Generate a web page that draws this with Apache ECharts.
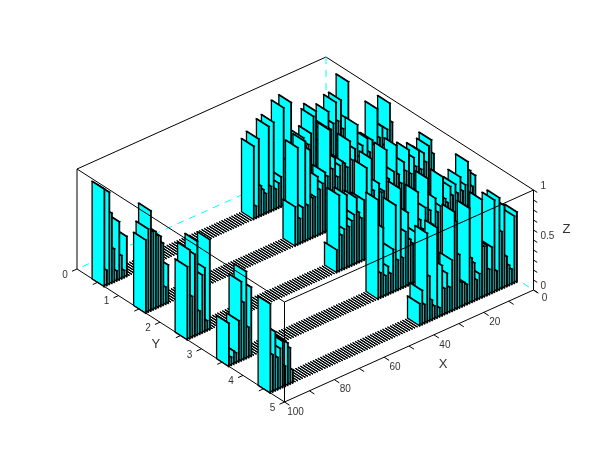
<!DOCTYPE html>
<html>
<head>
<meta charset="utf-8">
<style>html,body{margin:0;padding:0;background:#fff}#container{width:610px;height:460px}</style>
<script src="https://cdn.jsdelivr.net/npm/echarts@6/dist/echarts.min.js"></script>
</head>
<body>
<div id="container"></div>
<script>
// bar heights by row, X = 1..100
var row1 = [.5,.95,.6,.5,.8,.6,.8,.6,.55,.74, .6,.5,.6,.5,.8,.76,.6,.5,.5,.59, .4,.3,.5,.45,1,.3,.45,.98,.3,.25, .2,.88,.25,.86,.2,.25,.3,.78,.12,.73,
  0,0,0,0,0,0,0,0,0,0, 0,0,0,0,0,0,0,0,0,0, 0,0,0,0,0,0,0,0,0,0, 0,0,0,0,0,0,0,0,0,0, 0,0,0,0,0,0,0,0,0,0,
  .4,.07,.23,.58,.1,.33,.7,.92,.15,.975];
var row2 = [.8,1,.75,.6,.8,.7,1,.65,.71,.6, .75,.55,.7,.6,.93,.7,.6,.8,.55,.6, .63,.6,.5,.7,.6,1,.55,.6,.5,.45, .59,.4,.4,.89,.35,1,.35,.25,.97,.39,
  0,0,0,0,0,0,0,0,0,0, 0,0,0,0,0,0,0,0,0,0, 0,0,0,0,0,0,0,0,0,0, 0,0,0,0,0,0,0,0,0,0, 0,0,0,0,0,0,0,0,0,0,
  .38,.17,.62,.7,.72,.77,.78,1,.83,.73];
var row3 = [.75,.9,.85,.7,.8,.65,.85,.7,.8,.65, .9,.7,.8,.6,.7,1,.75,.6,.7,1, .6,.6,.7,.55,.65,.98,.6,.91,.6,.43, .5,.655,.5,.45,.4,.73,.4,.35,.76,.226,
  0,0,0,0,0,0,0,0,0,0, 0,0,0,0,0,0,0,0,0,0, 0,0,0,0,0,0,0,0,0,0, 0,0,0,0,0,0,0,0,0,0, 0,0,0,0,0,0,0,0,0,0,
  .9,.1,.64,.58,.23,.94,.82,.41,.885,.73];
var row4 = [.8,.7,.87,.97,.75,.7,.85,.7,.8,.7, .8,.65,.7,.93,.65,.6,.75,.5,.65,.98, .7,.5,.6,.89,.5,.4,.45,.73,.55,.3, 1,.3,.86,.43,.2,.28,.2,.69,.25,.99,
  0,0,0,0,0,0,0,0,0,0, 0,0,0,0,0,0,0,0,0,0, 0,0,0,0,0,0,0,0,0,0, 0,0,0,0,0,0,0,0,0,0, 0,0,0,0,0,0,0,0,0,0,
  .69,.3,.87,.57,.79,.41,.1,.13,.08,.43];
var row5 = [.7,.67,.15,.2,.3,.82,.57,.92,.2,.92, .46,.25,.5,.5,.98,.25,.2,.38,.44,.95, .2,.23,.24,.53,.87,.98,.51,.25,.4,.26, .5,.09,.9,.13,.2,.45,.89,.19,.34,.22,
  0,0,0,0,0,0,0,0,0,0, 0,0,0,0,0,0,0,0,0,0, 0,0,0,0,0,0,0,0,0,0, 0,0,0,0,0,0,0,0,0,0, 0,0,0,0,0,0,0,0,0,0,
  .13,.36,.42,.2,.46,.4,.32,.59,.37,.89];
var rows = [row1, row2, row3, row4, row5];

var xTicks = [0, 10, 20, 30, 40, 50, 60, 70, 80, 90, 100];
var xLabels = [0, 20, 40, 60, 80, 100];
var yTicks = [0, 0.5, 1, 1.5, 2, 2.5, 3, 3.5, 4, 4.5, 5];
var yLabels = [0, 1, 2, 3, 4, 5];
var zTicks = [0, 0.1, 0.2, 0.3, 0.4, 0.5, 0.6, 0.7, 0.8, 0.9, 1];
var zLabels = [0, 0.5, 1];

var barFill = '#00ffff';
var barHalfX = 0.1;
var barY0 = 0.37, barY1 = 0.66;
var textCol = '#333';
var font = '10px "Liberation Sans", Arial, sans-serif';
var titleFont = '13px "Liberation Sans", Arial, sans-serif';

// oblique view of the box, gives page x,y for a data point
function proj(x, y, z) {
  var d = 100 - x;
  return [77 + 2.49 * d + 41.5 * y, 269 - 1.12 * d + 26.6 * y - 100 * z];
}

var dom = document.getElementById('container');
var myChart = echarts.init(dom, null, {renderer: 'canvas'});

function toPx(api, p) { return api.coord(p); }

function poly(api, pts, lw) {
  return {
    type: 'polygon',
    shape: {points: pts.map(function (p) { return toPx(api, p); })},
    style: {fill: barFill, stroke: '#000', lineWidth: lw, lineJoin: 'miter'}
  };
}
function line(api, a, b, col, dash) {
  var p = toPx(api, a), q = toPx(api, b);
  return {
    type: 'line',
    shape: {x1: p[0], y1: p[1], x2: q[0], y2: q[1]},
    style: {stroke: col || '#000', lineWidth: 1, lineDash: dash || null, fill: null}
  };
}
function label(api, at, dx, dy, str, f, align) {
  var p = toPx(api, at);
  return {
    type: 'text',
    x: p[0] + dx, y: p[1] + dy,
    style: {text: String(str), font: f, fill: textCol, textAlign: align || 'center', textVerticalAlign: 'middle'}
  };
}

function renderBar(params, api) {
  var x = api.value(0), r = api.value(1), h = api.value(2);
  var x0 = x - barHalfX, x1 = x + barHalfX, y0 = r + barY0, y1 = r + barY1;
  // flat bars get a finer edge or the row closes up into a solid band
  var lw = h > 0 ? 1.3 : 0.8;
  return {
    type: 'group',
    children: [
      poly(api, [proj(x0, y0, h), proj(x1, y0, h), proj(x1, y1, h), proj(x0, y1, h)], lw),
      poly(api, [proj(x0, y1, 0), proj(x1, y1, 0), proj(x1, y1, h), proj(x0, y1, h)], lw),
      poly(api, [proj(x1, y0, 0), proj(x1, y1, 0), proj(x1, y1, h), proj(x1, y0, h)], lw)
    ]
  };
}

function renderBack(params, api) {
  var dash = [7, 6];
  return {
    type: 'group',
    children: [
      line(api, proj(100, 0, 1), proj(0, 0, 1)),
      line(api, proj(0, 0, 1), proj(0, 5, 1)),
      line(api, proj(0, 0, 1), proj(0, 0, 0), '#00ffff', dash),
      line(api, proj(0, 0, 0), proj(100, 0, 0), '#00ffff', dash),
      line(api, proj(0, 0, 0), proj(0, 5, 0), '#00ffff', dash)
    ]
  };
}

function renderFront(params, api) {
  var c = [
    line(api, proj(100, 0, 1), proj(100, 5, 1)),
    line(api, proj(100, 5, 1), proj(0, 5, 1)),
    line(api, proj(100, 0, 1), proj(100, 0, 0)),
    line(api, proj(100, 5, 1), proj(100, 5, 0)),
    line(api, proj(0, 5, 1), proj(0, 5, 0)),
    line(api, proj(100, 0, 0), proj(100, 5, 0)),
    line(api, proj(100, 5, 0), proj(0, 5, 0))
  ];
  xTicks.forEach(function (t) { c.push(line(api, proj(t, 5, 0), proj(t, 5.12, 0))); });
  yTicks.forEach(function (t) { c.push(line(api, proj(100, t, 0), proj(102, t, 0))); });
  zTicks.forEach(function (t) { c.push(line(api, proj(0, 5, t), proj(0, 5.09, t))); });
  xLabels.forEach(function (t) { c.push(label(api, proj(t, 5, 0), 11, t === 0 ? 8 : 10, t, font)); });
  yLabels.forEach(function (t) { c.push(label(api, proj(100, t, 0), -12, 6, t, font)); });
  zLabels.forEach(function (t) { c.push(label(api, proj(0, 5, t), 7, -4, t, font, 'left')); });
  c.push(label(api, proj(50, 5, 0), 34, 18, 'X', titleFont));
  c.push(label(api, proj(100, 2.5, 0), -25, 9, 'Y', titleFont));
  c.push(label(api, proj(0, 5, 0.5), 33, -11, 'Z', titleFont));
  return {type: 'group', children: c};
}

var barData = [];
rows.forEach(function (vals, r) {
  vals.forEach(function (h, i) { barData.push([i + 1, r, h]); });
});

var option = {
  animation: false,
  backgroundColor: '#fff',
  grid: {left: 0, right: 0, top: 0, bottom: 0},
  xAxis: {type: 'value', min: 0, max: 610, show: false},
  yAxis: {type: 'value', min: 0, max: 460, inverse: true, show: false},
  series: [
    {type: 'custom', z: 1, silent: true, clip: false, data: [[0, 0]], renderItem: renderBack},
    {type: 'custom', z: 2, silent: true, clip: false, data: barData, encode: {x: 0, y: 1}, renderItem: renderBar},
    {type: 'custom', z: 3, silent: true, clip: false, data: [[0, 0]], renderItem: renderFront}
  ]
};
myChart.setOption(option);
</script>
</body>
</html>
